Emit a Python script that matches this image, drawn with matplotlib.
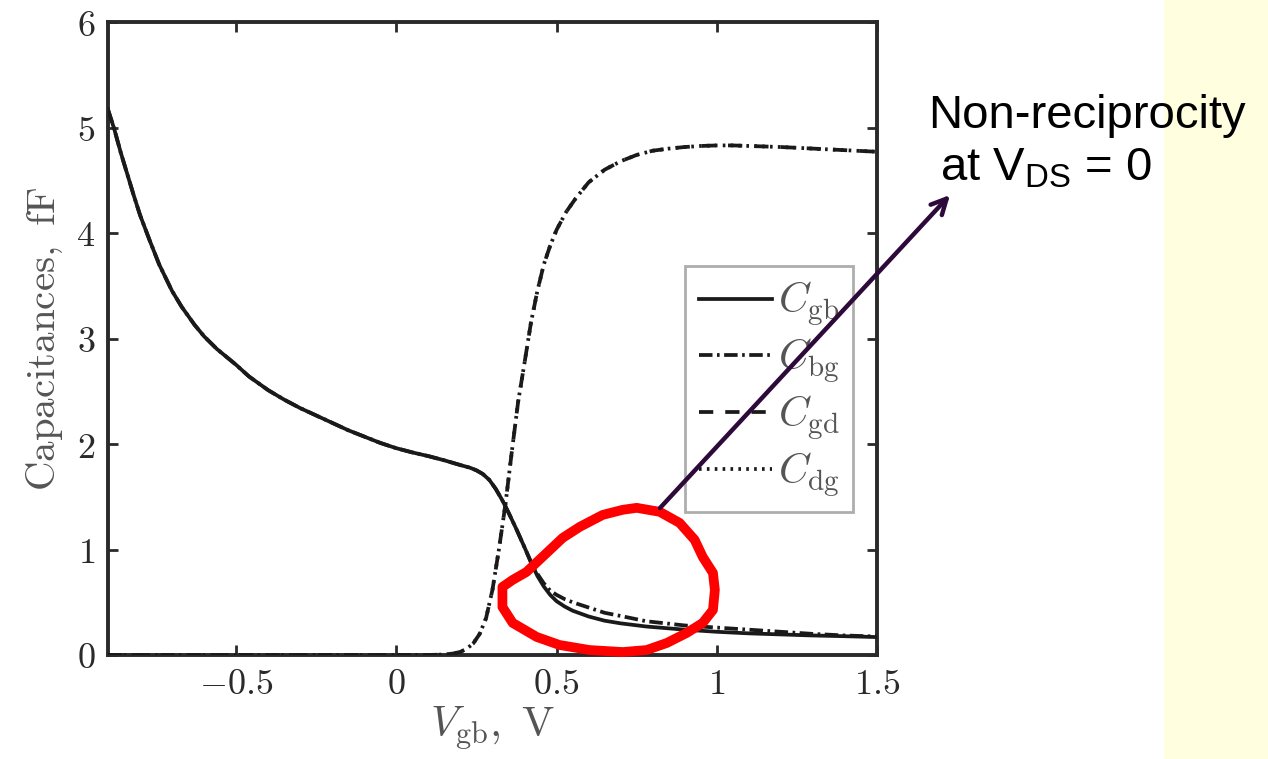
import matplotlib
matplotlib.use("Agg")
import matplotlib.pyplot as plt
from matplotlib.patches import Rectangle, Polygon
from matplotlib.ticker import FuncFormatter

# ---------------- data ----------------
x_gb = [-0.9, -0.88, -0.86, -0.84, -0.82, -0.8, -0.77, -0.74, -0.7, -0.67, -0.63,
        -0.6, -0.56, -0.5, -0.46, -0.4, -0.35, -0.3, -0.25, -0.2, -0.15, -0.1,
        -0.05, 0.0, 0.05, 0.1, 0.15, 0.2, 0.23, 0.25, 0.27, 0.29, 0.31, 0.33,
        0.35, 0.375, 0.4, 0.42, 0.44, 0.46, 0.48, 0.5, 0.525, 0.55, 0.6, 0.65,
        0.7, 0.78, 0.9, 1.0, 1.1, 1.2, 1.3, 1.4, 1.5]
c_gb = [5.17, 4.98, 4.76, 4.56, 4.36, 4.17, 3.93, 3.70, 3.45, 3.30, 3.13,
        3.02, 2.90, 2.75, 2.64, 2.51, 2.42, 2.34, 2.27, 2.20, 2.13, 2.07,
        2.01, 1.96, 1.92, 1.885, 1.845, 1.80, 1.775, 1.75, 1.715, 1.66, 1.575, 1.47,
        1.35, 1.19, 1.02, 0.88, 0.75, 0.65, 0.57, 0.51, 0.46, 0.42, 0.365, 0.325,
        0.30, 0.27, 0.24, 0.22, 0.205, 0.195, 0.185, 0.178, 0.17]
c_bg = [5.17, 4.98, 4.76, 4.56, 4.36, 4.17, 3.93, 3.70, 3.45, 3.30, 3.13,
        3.02, 2.90, 2.75, 2.64, 2.51, 2.42, 2.34, 2.27, 2.20, 2.13, 2.07,
        2.01, 1.96, 1.92, 1.885, 1.845, 1.80, 1.775, 1.75, 1.715, 1.66, 1.575, 1.47,
        1.35, 1.19, 1.02, 0.88, 0.77, 0.68, 0.61, 0.57, 0.53, 0.50, 0.45, 0.40,
        0.37, 0.32, 0.28, 0.26, 0.24, 0.22, 0.20, 0.185, 0.175]

x_gd = [-0.9, 0.0, 0.1, 0.15, 0.18, 0.2, 0.22, 0.24, 0.26, 0.28, 0.3, 0.32, 0.34,
        0.36, 0.38, 0.4, 0.42, 0.44, 0.46, 0.48, 0.5, 0.53, 0.56, 0.6, 0.65, 0.7,
        0.75, 0.8, 0.85, 0.9, 0.95, 1.0, 1.05, 1.1, 1.2, 1.3, 1.4, 1.5]
c_gd = [0.0, 0.0, 0.0, 0.005, 0.015, 0.03, 0.06, 0.11, 0.2, 0.35, 0.62, 1.0, 1.42,
        1.92, 2.4, 2.77, 3.15, 3.45, 3.70, 3.88, 4.03, 4.20, 4.33, 4.48, 4.60, 4.68,
        4.74, 4.78, 4.80, 4.815, 4.825, 4.83, 4.83, 4.825, 4.815, 4.80, 4.785, 4.77]
c_dg = c_gd

x_ticks = [-0.5, 0, 0.5, 1, 1.5]
y_ticks = [0, 1, 2, 3, 4, 5, 6]

# hand-drawn red loop of the annotation (data coordinates)
loop_x = [0.750, 0.822, 0.884, 0.931, 0.956, 0.988, 0.994, 0.988, 0.956, 0.906,
          0.844, 0.781, 0.706, 0.603, 0.509, 0.438, 0.363, 0.331, 0.331, 0.363,
          0.406, 0.456, 0.519, 0.572, 0.644, 0.706]
loop_y = [1.395, 1.357, 1.252, 1.091, 0.930, 0.778, 0.617, 0.427, 0.304, 0.209,
          0.114, 0.047, 0.028, 0.047, 0.095, 0.171, 0.304, 0.455, 0.645, 0.712,
          0.787, 0.930, 1.110, 1.214, 1.328, 1.376]

# ---------------- styling ----------------
plt.rcParams['mathtext.fontset'] = 'cm'
plt.rcParams['mathtext.rm'] = 'Liberation Sans'
plt.rcParams['mathtext.it'] = 'Liberation Sans:italic'
plt.rcParams['mathtext.bf'] = 'Liberation Sans:bold'

W, H = 1268, 759
fig = plt.figure(figsize=(W / 100, H / 100), dpi=100)
fig.patches.append(Rectangle((1164 / W, 0), 1 - 1164 / W, 1,
                             transform=fig.transFigure, facecolor='#FFFFE0',
                             edgecolor='none', zorder=0))

ax_l, ax_r, ax_t, ax_b = 108, 877, 22, 655
ax = fig.add_axes([ax_l / W, (H - ax_b) / H, (ax_r - ax_l) / W, (ax_b - ax_t) / H])
ax.set_zorder(2)

line_col = '#1a1a1a'
lw = 2.7
ax.plot(x_gb, c_gb, color=line_col, lw=lw, ls='-', label=r'$C_{\rm gb}$', zorder=4)
ax.plot(x_gb, c_bg, color=line_col, lw=lw, ls=(0, (3.6, 1.2, 0.7, 1.2)), label=r'$C_{\rm bg}$', zorder=3)
ax.plot(x_gd, c_gd, color=line_col, lw=lw, ls=(0, (3.8, 3.2)), label=r'$C_{\rm gd}$', zorder=3)
ax.plot(x_gd, c_dg, color=line_col, lw=lw, ls=(0, (0.7, 1.4)), label=r'$C_{\rm dg}$', zorder=3)

ax.set_xlim(-0.9, 1.5)
ax.set_ylim(0, 6)
ax.set_xticks(x_ticks)
ax.set_yticks(y_ticks)
fmt = FuncFormatter(lambda v, p: r'$%s$' % ('%g' % v))
ax.xaxis.set_major_formatter(fmt)
ax.yaxis.set_major_formatter(fmt)
ax.tick_params(direction='in', length=7, width=2, top=True, right=True,
               labelsize=26, colors='#2a2a2a', pad=9)
for s in ax.spines.values():
    s.set_linewidth(2.8)
    s.set_color('#2a2a2a')

ax.set_ylabel(r'$\rm Capacitances,\ fF$', fontsize=29.5, color='#555555', labelpad=8)
ax.set_xlabel(r'$V_{\rm gb},\ \rm V$', fontsize=31, color='#555555', labelpad=2)

leg = ax.legend(loc='upper left',
                bbox_to_anchor=((685 - ax_l) / (ax_r - ax_l), (ax_b - 266) / (ax_b - ax_t)),
                fontsize=30, frameon=True, fancybox=False, handlelength=1.75,
                handletextpad=0.14, labelspacing=0.2, borderpad=0.33,
                borderaxespad=0)
leg.get_frame().set_edgecolor('#999999')
leg.get_frame().set_linewidth(2)
for t in leg.get_texts():
    t.set_color('#555555')

# red loop
ax.add_patch(Polygon(list(zip(loop_x, loop_y)), closed=True, fill=False,
                     edgecolor='#FF0000', lw=7, joinstyle='round', clip_on=False, zorder=6))

# arrow from loop to text
ax.annotate('', xy=(950, H - 195), xycoords='figure pixels',
            xytext=(660, H - 508), textcoords='figure pixels',
            arrowprops=dict(arrowstyle='->,head_length=1.1,head_width=0.55',
                            color='#2d0a3a', lw=3.2, shrinkA=0, shrinkB=0),
            zorder=7, annotation_clip=False)

fig.text(928 / W, 1 - 128 / H, 'Non-reciprocity', fontsize=34,
         family='Liberation Sans', color='black', ha='left', va='baseline', zorder=8)
fig.text(940 / W, 1 - 180 / H, r'at V$_{\rm DS}$ = 0', fontsize=34,
         family='Liberation Sans', color='black', ha='left', va='baseline',
         zorder=8, math_fontfamily='custom')

fig.savefig('out.png', dpi=100)
